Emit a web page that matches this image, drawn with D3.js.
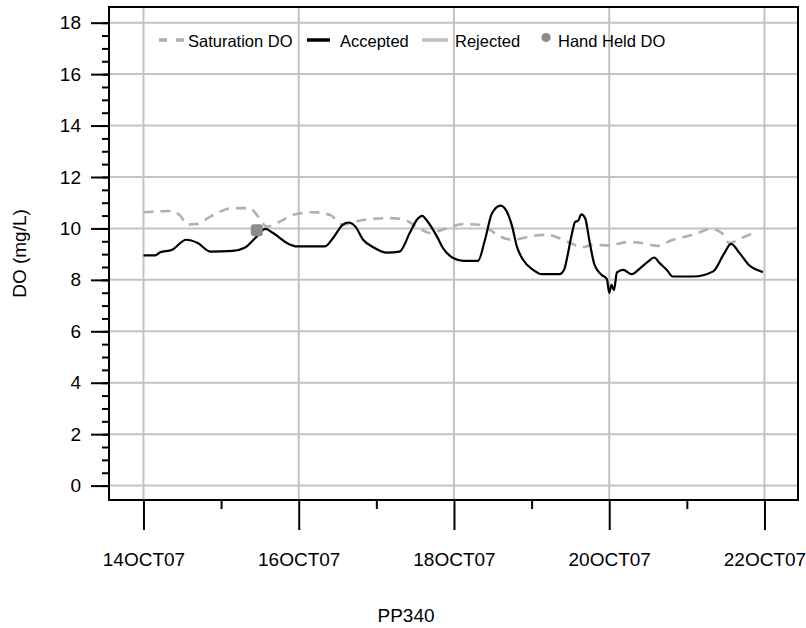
<!DOCTYPE html>
<html>
<head>
<meta charset="utf-8">
<script src="https://cdn.jsdelivr.net/npm/d3@7"></script>
<style>
  html, body { margin: 0; padding: 0; background: #fff; }
  svg { display: block; font-family: "Liberation Sans", Arial, sans-serif; }
</style>
</head>
<body>
<svg id="chart" width="806" height="628"></svg>
<script>
// Station PP340, dissolved oxygen record, 14-22 October 2007.
// Times are fractional days after 14OCT07 00:00.
const startDate = new Date(2007, 9, 14);

const acceptedDay = [0.00, 0.15, 0.21, 0.37, 0.55, 0.70, 0.86, 1.15, 1.31, 1.46, 1.57, 1.67, 1.85, 1.98,
  2.34, 2.44, 2.57, 2.64, 2.73, 2.83, 2.96, 3.14, 3.30, 3.43, 3.52, 3.59, 3.66, 3.78, 3.86, 3.99,
  4.12, 4.31, 4.40, 4.49, 4.60, 4.68, 4.75, 4.81, 4.89, 5.02, 5.13, 5.33, 5.36, 5.42, 5.46, 5.52,
  5.56, 5.60, 5.64, 5.69, 5.75, 5.81, 5.90, 5.97, 6.00, 6.03, 6.06, 6.10, 6.18, 6.29, 6.40, 6.50,
  6.58, 6.65, 6.74, 6.82, 7.08, 7.34, 7.47, 7.57, 7.68, 7.81, 7.90, 7.98];
const acceptedDO = [8.95, 8.95, 9.06, 9.17, 9.56, 9.43, 9.10, 9.13, 9.26, 9.69, 9.98, 9.82, 9.43, 9.30,
  9.30, 9.62, 10.15, 10.23, 10.07, 9.56, 9.27, 9.06, 9.10, 9.82, 10.33, 10.49, 10.27, 9.69, 9.23, 8.85,
  8.74, 8.74, 9.56, 10.59, 10.89, 10.66, 10.07, 9.30, 8.78, 8.39, 8.22, 8.22, 8.22, 8.40, 8.90, 9.80,
  10.25, 10.30, 10.55, 10.40, 9.43, 8.59, 8.20, 8.03, 7.49, 7.81, 7.60, 8.29, 8.39, 8.22, 8.46, 8.71,
  8.87, 8.65, 8.39, 8.13, 8.13, 8.33, 8.97, 9.40, 9.04, 8.55, 8.39, 8.30];

const saturationDay = [0.00, 0.37, 0.47, 0.57, 0.69, 0.86, 1.15, 1.37, 1.46, 1.59, 1.76, 1.93, 2.18,
  2.40, 2.57, 2.83, 3.18, 3.34, 3.52, 3.69, 3.91, 4.12, 4.33, 4.46, 4.59, 4.76, 4.98, 5.20, 5.36,
  5.49, 5.66, 5.79, 6.01, 6.23, 6.43, 6.61, 6.82, 7.08, 7.32, 7.45, 7.55, 7.72, 7.91];
const saturationDO = [10.63, 10.68, 10.50, 10.15, 10.17, 10.46, 10.79, 10.79, 10.53, 10.07, 10.27, 10.53, 10.63,
  10.53, 10.15, 10.33, 10.40, 10.36, 10.07, 9.82, 10.01, 10.17, 10.14, 9.95, 9.69, 9.56, 9.69, 9.75, 9.62,
  9.45, 9.27, 9.36, 9.34, 9.47, 9.43, 9.32, 9.56, 9.75, 9.98, 9.82, 9.43, 9.65, 9.88];

const handHeldDay = [1.46];
const handHeldDO = [9.93];

const yTickValues = [0, 2, 4, 6, 8, 10, 12, 14, 16, 18];
const xTickLabels = ["14OCT07", "16OCT07", "18OCT07", "20OCT07", "22OCT07"];
const legendLabels = ["Saturation DO", "Accepted", "Rejected", "Hand Held DO"];
const stationName = "PP340";
const yTitle = "DO (mg/L)";

const toDate = d => new Date(startDate.getTime() + d * 864e5);

const svg = d3.select("#chart");
const frame = { left: 109, top: 7, right: 798, bottom: 500 };

const x = d3.scaleTime()
  .domain([toDate(-0.444), toDate(8.432)])
  .range([frame.left, frame.right]);
const y = d3.scaleLinear()
  .domain([-0.56, 18.61])
  .range([frame.bottom, frame.top]);

const gridColor = "#c3c3c3";
const majorDays = d3.range(0, 9, 2);
const minorDays = d3.range(1, 9, 2);

// grid
const grid = svg.append("g");
grid.selectAll("line.h").data(yTickValues).join("line")
  .attr("x1", frame.left).attr("x2", frame.right)
  .attr("y1", d => y(d)).attr("y2", d => y(d))
  .attr("stroke", gridColor).attr("stroke-width", 2);
grid.selectAll("line.v").data(majorDays).join("line")
  .attr("x1", d => x(toDate(d))).attr("x2", d => x(toDate(d)))
  .attr("y1", frame.top).attr("y2", frame.bottom)
  .attr("stroke", gridColor).attr("stroke-width", 2);

// y axis: labelled majors plus half-unit minors
const yAxis = svg.append("g").attr("transform", `translate(${frame.left},0)`);
yAxis.call(d3.axisLeft(y).tickValues(d3.range(0, 18.01, 0.5)).tickSize(7).tickFormat(""))
  .call(g => g.select(".domain").remove())
  .call(g => g.selectAll("line").attr("stroke", "#000").attr("stroke-width", 2));
yAxis.append("g")
  .call(d3.axisLeft(y).tickValues(yTickValues).tickSize(18).tickPadding(10).tickFormat(d3.format("d")))
  .call(g => g.select(".domain").remove())
  .call(g => g.selectAll("line").attr("stroke", "#000").attr("stroke-width", 2))
  .call(g => g.selectAll("text").attr("font-size", 19).attr("fill", "#000")
    .attr("font-family", "'Liberation Sans', Arial, sans-serif"));

// x axis
const xAxis = svg.append("g").attr("transform", `translate(0,${frame.bottom})`);
xAxis.call(d3.axisBottom(x).tickValues(minorDays.map(toDate)).tickSize(9).tickFormat(""))
  .call(g => g.select(".domain").remove())
  .call(g => g.selectAll("line").attr("stroke", "#000").attr("stroke-width", 2));
xAxis.append("g")
  .call(d3.axisBottom(x).tickValues(majorDays.map(toDate)).tickSize(30).tickPadding(23)
    .tickFormat((d, i) => xTickLabels[i]))
  .call(g => g.select(".domain").remove())
  .call(g => g.selectAll("line").attr("stroke", "#000").attr("stroke-width", 2))
  .call(g => g.selectAll("text").attr("font-size", 19).attr("fill", "#000")
    .attr("font-family", "'Liberation Sans', Arial, sans-serif"));

// series
const clipId = "plot-clip";
svg.append("clipPath").attr("id", clipId).append("rect")
  .attr("x", frame.left).attr("y", frame.top)
  .attr("width", frame.right - frame.left).attr("height", frame.bottom - frame.top);
const plot = svg.append("g").attr("clip-path", `url(#${clipId})`);

const line = d3.line()
  .x(d => x(toDate(d[0])))
  .y(d => y(d[1]))
  .curve(d3.curveMonotoneX);

plot.append("path")
  .datum(d3.zip(saturationDay, saturationDO))
  .attr("d", line)
  .attr("fill", "none").attr("stroke", "#b0b0b0")
  .attr("stroke-width", 2.6).attr("stroke-dasharray", "10,7");

plot.append("path")
  .datum(d3.zip(acceptedDay, acceptedDO))
  .attr("d", line)
  .attr("fill", "none").attr("stroke", "#000")
  .attr("stroke-width", 2.2).attr("stroke-linejoin", "round");

plot.selectAll("rect.hh").data(d3.zip(handHeldDay, handHeldDO)).join("rect")
  .attr("x", d => x(toDate(d[0])) - 6)
  .attr("y", d => y(d[1]) - 6)
  .attr("width", 12).attr("height", 12).attr("rx", 3)
  .attr("fill", "#8c8c8c");

// frame
svg.append("rect")
  .attr("x", frame.left).attr("y", frame.top)
  .attr("width", frame.right - frame.left).attr("height", frame.bottom - frame.top)
  .attr("fill", "none").attr("stroke", "#000").attr("stroke-width", 2);

// legend
const legend = svg.append("g").attr("font-size", 16.5).attr("fill", "#000");
const ly = 41;
legend.append("line").attr("x1", 159).attr("x2", 184).attr("y1", ly - 1).attr("y2", ly - 1)
  .attr("stroke", "#b0b0b0").attr("stroke-width", 3.5).attr("stroke-dasharray", "8,9");
legend.append("text").attr("x", 188).attr("y", ly + 6).text(legendLabels[0]);
legend.append("line").attr("x1", 307).attr("x2", 330).attr("y1", ly - 1).attr("y2", ly - 1)
  .attr("stroke", "#000").attr("stroke-width", 3.5);
legend.append("text").attr("x", 340).attr("y", ly + 6).text(legendLabels[1]);
legend.append("line").attr("x1", 422).attr("x2", 448).attr("y1", ly - 1).attr("y2", ly - 1)
  .attr("stroke", "#c0c0c0").attr("stroke-width", 3.5);
legend.append("text").attr("x", 455).attr("y", ly + 6).text(legendLabels[2]);
legend.append("circle").attr("cx", 546).attr("cy", ly - 3.5).attr("r", 4.6).attr("fill", "#8c8c8c");
legend.append("text").attr("x", 558).attr("y", ly + 6).text(legendLabels[3]);

// titles
svg.append("text")
  .attr("transform", `translate(26,${(frame.top + frame.bottom) / 2}) rotate(-90)`)
  .attr("text-anchor", "middle").attr("font-size", 19).attr("fill", "#000")
  .text(yTitle);
svg.append("text")
  .attr("x", 406).attr("y", 622)
  .attr("text-anchor", "middle").attr("font-size", 19).attr("fill", "#000")
  .text(stationName);
</script>
</body>
</html>
